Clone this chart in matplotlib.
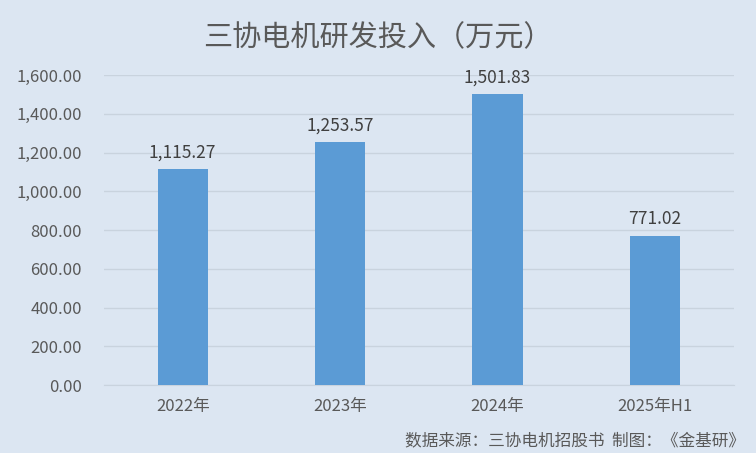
import matplotlib
matplotlib.use("Agg")
import matplotlib.pyplot as plt

plt.rcParams['font.family'] = ['Noto Sans CJK SC', 'DejaVu Sans']

categories = ['2022年', '2023年', '2024年', '2025年H1']
values = [1115.27, 1253.57, 1501.83, 771.02]
yticks = [0, 200, 400, 600, 800, 1000, 1200, 1400, 1600]

bg = '#DCE6F2'
fig = plt.figure(figsize=(7.56, 4.53), dpi=100, facecolor=bg)
ax = fig.add_axes([0.1376, 0.150, 0.833, 0.684])
ax.set_facecolor(bg)

bars = ax.bar(range(len(categories)), values, width=0.32, color='#5B9BD5', zorder=3)
for b, v in zip(bars, values):
    ax.text(b.get_x() + b.get_width() / 2, v + 38, f'{v:,.2f}',
            ha='center', va='bottom', fontsize=12.5, color='#404040')

ax.set_ylim(0, 1600)
ax.set_xlim(-0.5, len(categories) - 0.5)
ax.set_yticks(yticks)
ax.set_yticklabels([f'{t:,.2f}' for t in yticks])
ax.set_xticks(range(len(categories)))
ax.set_xticklabels(categories)
ax.tick_params(axis='both', length=0, labelsize=12, colors='#595959')
ax.tick_params(axis='y', pad=16)
ax.tick_params(axis='x', pad=9)
ax.grid(axis='y', color='#C9D3DE', linewidth=1, zorder=0)
for s in ['top', 'right', 'left']:
    ax.spines[s].set_visible(False)
ax.spines['bottom'].set_color('#C9D3DE')

fig.text(0.5, 0.916, '三协电机研发投入（万元）', ha='center', va='center',
         fontsize=21, color='#595959')
fig.text(0.986, 0.028, '数据来源：三协电机招股书  制图：《金基研》', ha='right',
         va='center', fontsize=12, color='#595959')

fig.savefig('out.png', dpi=100, facecolor=bg)
